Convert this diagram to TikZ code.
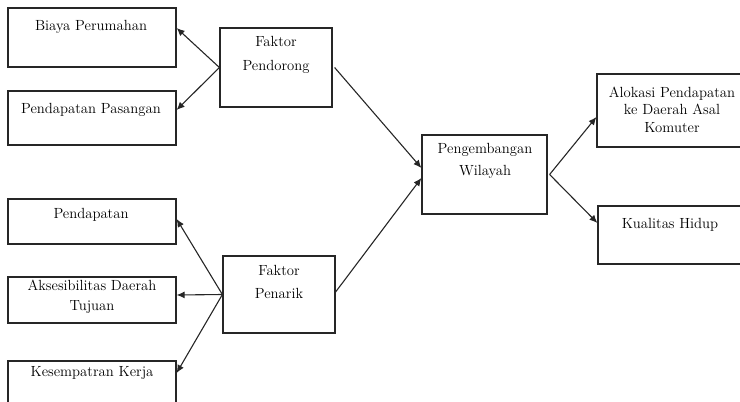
\documentclass[tikz,border=0pt]{standalone}
\usepackage{tikz}
\usetikzlibrary{arrows.meta}

\begin{document}
\begin{tikzpicture}[x=1pt,y=-1pt,>={Latex[length=8pt,width=7pt]},
    box/.style={draw=black!85,line width=1.2pt,inner sep=0pt},
    txt/.style={inner sep=0pt,align=center,text=black,font=\fontsize{14.7}{22}\selectfont},
    arr/.style={->,line width=1.1pt,black!85}]
  \clip (0,0) rectangle (740,402);
  % kotak sebelah kiri
  \node[box,minimum width=168pt,minimum height=59pt] (biaya) at (92,37.5) {};
  \node[txt] (biaya-t) at (91,27) {Biaya Perumahan};
  \node[box,minimum width=168pt,minimum height=54pt] (pasangan) at (92,118) {};
  \node[txt] (pasangan-t) at (91,110) {Pendapatan Pasangan};
  \node[box,minimum width=168pt,minimum height=45pt] (pendapatan) at (92,221.5) {};
  \node[txt] (pendapatan-t) at (91,215) {Pendapatan};
  \node[box,minimum width=168pt,minimum height=46pt] (akses) at (92,300) {};
  \node[txt] (akses-t) at (92,297) {Aksesibilitas Daerah\\[-2pt]Tujuan};
  \node[box,minimum width=168pt,minimum height=60pt] (kerja) at (92,391) {};
  \node[txt] (kerja-t) at (92,373) {Kesempatran Kerja};
  % faktor
  \node[box,minimum width=112pt,minimum height=79pt] (pendorong) at (276,67.5) {};
  \node[txt] (pendorong-t) at (276,55) {Faktor\\[2pt]Pendorong};
  \node[box,minimum width=112pt,minimum height=77pt] (penarik) at (279,294.5) {};
  \node[txt] (penarik-t) at (279,281.5) {Faktor\\[1pt]Penarik};
  % tengah dan kanan
  \node[box,minimum width=125pt,minimum height=79pt] (wilayah) at (484.5,174.5) {};
  \node[txt] (wilayah-t) at (485,161) {Pengembangan\\Wilayah};
  \node[box,minimum width=150pt,minimum height=73pt] (alokasi) at (672,110.5) {};
  \node[txt] (alokasi-t) at (672,109.5) {Alokasi Pendapatan\\[-4.5pt]ke Daerah Asal\\[-4.5pt]Komuter};
  \node[box,minimum width=150pt,minimum height=58pt] (kualitas) at (673,235) {};
  \node[txt] (kualitas-t) at (670,225) {Kualitas Hidup};
  % panah
  \draw[arr] (pendorong.west) -- ([yshift=9.5pt]biaya.east);
  \draw[arr] (pendorong.west) -- ([yshift=8pt]pasangan.east);
  \draw[arr] ([xshift=2pt]pendorong.east) -- ([yshift=6.5pt]wilayah.west);
  \draw[arr] ([yshift=2.5pt]penarik.east) -- ([yshift=-3.5pt]wilayah.west);
  \draw[arr] (penarik.west) -- ([yshift=2.5pt]pendapatan.east);
  \draw[arr] (penarik.west) -- ([yshift=5pt]akses.east);
  \draw[arr] (penarik.west) -- ([yshift=18pt]kerja.east);
  \draw[arr] ([xshift=2pt]wilayah.east) -- ([yshift=-6.5pt]alokasi.west);
  \draw[arr] ([xshift=2pt]wilayah.east) -- ([yshift=12pt]kualitas.west);
\end{tikzpicture}
\end{document}
